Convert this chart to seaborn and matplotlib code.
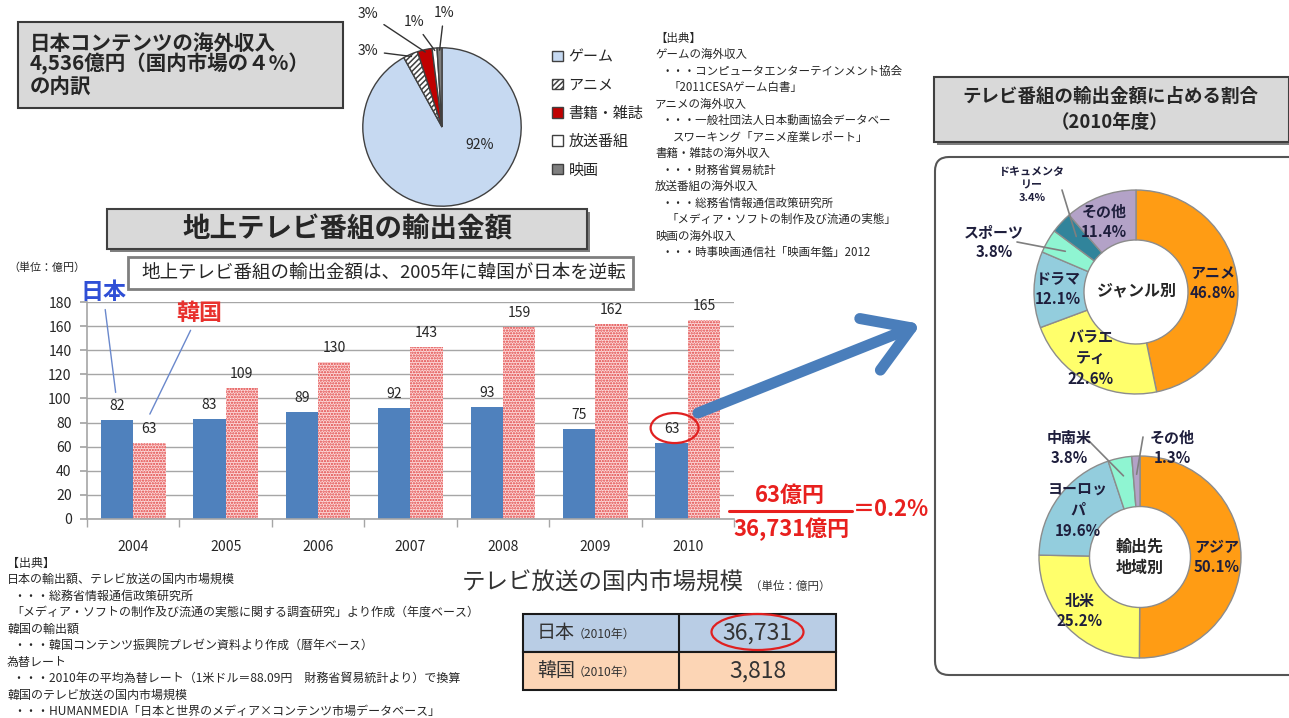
import matplotlib
matplotlib.use("Agg")
import numpy as np
import pandas as pd
import matplotlib.pyplot as plt
import seaborn as sns
from matplotlib.patches import FancyBboxPatch, FancyArrowPatch, Ellipse
from matplotlib.lines import Line2D
from matplotlib.transforms import IdentityTransform, ScaledTranslation

# ---------------- data ----------------
years = ["2004", "2005", "2006", "2007", "2008", "2009", "2010"]
japan_export = [82, 83, 89, 92, 93, 75, 63]
korea_export = [63, 109, 130, 143, 159, 162, 165]
countries = ["日本", "韓国"]
y_ticks = [0, 20, 40, 60, 80, 100, 120, 140, 160, 180]

content_labels = ["ゲーム", "アニメ", "書籍・雑誌", "放送番組", "映画"]
content_share = [92, 3, 3, 1, 1]

genre_labels = ["アニメ", "バラエ\nティ", "ドラマ", "スポーツ", "ドキュメンタ\nリー", "その他"]
genre_share = [46.8, 22.6, 12.1, 3.8, 3.4, 11.4]

region_labels = ["アジア", "北米", "ヨーロッ\nパ", "中南米", "その他"]
region_share = [50.1, 25.2, 19.6, 3.8, 1.3]

market_countries = ["日本", "韓国"]
market_year = ["（2010年）", "（2010年）"]
market_size = [36731, 3818]

source_top = [
    (0, "【出典】"), (0, "ゲームの海外収入"), (6, "・・・コンピュータエンターテインメント協会"),
    (14, "「2011CESAゲーム白書」"), (0, "アニメの海外収入"), (6, "・・・一般社団法人日本動画協会データベー"),
    (18, "スワーキング「アニメ産業レポート」"), (0, "書籍・雑誌の海外収入"), (6, "・・・財務省貿易統計"),
    (0, "放送番組の海外収入"), (6, "・・・総務省情報通信政策研究所"),
    (12, "「メディア・ソフトの制作及び流通の実態」"), (0, "映画の海外収入"),
    (6, "・・・時事映画通信社「映画年鑑」2012"),
]
source_bottom = [
    (0, "【出典】"), (0, "日本の輸出額、テレビ放送の国内市場規模"), (6, "・・・総務省情報通信政策研究所"),
    (4, "「メディア・ソフトの制作及び流通の実態に関する調査研究」より作成（年度ベース）"),
    (0, "韓国の輸出額"), (6, "・・・韓国コンテンツ振興院プレゼン資料より作成（暦年ベース）"),
    (0, "為替レート"), (6, "・・・2010年の平均為替レート（1米ドル＝88.09円　財務省貿易統計より）で換算"),
    (0, "韓国のテレビ放送の国内市場規模"), (6, "・・・HUMANMEDIA「日本と世界のメディア×コンテンツ市場データベース」"),
]

# ---------------- setup ----------------
sns.set_theme(style="white")
plt.rcParams["font.family"] = ["Noto Sans CJK JP", "DejaVu Sans"]
plt.rcParams["hatch.linewidth"] = 1.1
W, H = 1289, 718
fig = plt.figure(figsize=(W / 100, H / 100), dpi=100)
fig.patch.set_facecolor("white")
ID = IdentityTransform()
DARK = "#262626"


def P(px):
    return px * 0.72


def txt(x, y, s, size, **kw):
    kw.setdefault("va", "center")
    kw.setdefault("ha", "left")
    kw.setdefault("color", DARK)
    return fig.text(x / W, 1 - y / H, s, fontsize=P(size), **kw)


def rect(x0, y0, x1, y1, style="square,pad=0", **kw):
    p = FancyBboxPatch((x0, H - y1), x1 - x0, y1 - y0, boxstyle=style, transform=ID, **kw)
    fig.add_artist(p)
    return p


def line(xs, ys, **kw):
    l = Line2D(xs, [H - y for y in ys], transform=ID, **kw)
    fig.add_artist(l)
    return l


def axes_px(x0, y0, x1, y1):
    return fig.add_axes([x0 / W, 1 - y1 / H, (x1 - x0) / W, (y1 - y0) / H])


def fpt(x, y):
    return (x / W, 1 - y / H)


def mid(w, r):
    th = np.deg2rad((w.theta1 + w.theta2) / 2)
    return (r * np.cos(th), r * np.sin(th))


# ---------------- top-left title ----------------
rect(18, 22, 343, 108, fc="#d9d9d9", ec="#3a3a3a", lw=1.5)
txt(30, 43, "日本コンテンツの海外収入", 20.5, weight="bold")
txt(30, 64, "4,536億円（国内市場の４%）", 20.5, weight="bold")
txt(30, 86, "の内訳", 20.5, weight="bold")

# ---------------- pie ----------------
axp = axes_px(362, 47, 522, 207)
wedges, _ = axp.pie(content_share, colors=["#c6d9f1", "white", "#c00000", "white", "#7f7f7f"],
                    startangle=90, counterclock=False,
                    wedgeprops=dict(edgecolor="#404040", linewidth=1.0))
wedges[1].set_hatch("//////")
axp.set_xlim(-1.01, 1.01)
axp.set_ylim(-1.01, 1.01)
axp.set_aspect("equal")
txt(480, 145, f"{content_share[0]}%", 14, ha="center")
pie_lbl = {1: (368, 51), 2: (368, 14), 3: (414, 22), 4: (444, 13)}
for i, (lx, ly) in pie_lbl.items():
    axp.annotate(f"{content_share[i]}%", xy=mid(wedges[i], 0.97), xytext=fpt(lx, ly),
                 textcoords="figure fraction", ha="center", va="center", fontsize=P(14), color=DARK,
                 arrowprops=dict(arrowstyle="-", color="#333333", lw=1, shrinkA=2, shrinkB=0),
                 annotation_clip=False)
axp.legend(wedges, content_labels, loc="upper left", bbox_to_anchor=fpt(552, 50),
           bbox_transform=fig.transFigure, frameon=False, fontsize=P(15), handlelength=0.7,
           handleheight=0.7, labelspacing=0.95, handletextpad=0.4, borderaxespad=0, borderpad=0)

# ---------------- top source block ----------------
for i, (ind, s) in enumerate(source_top):
    txt(655 + ind, 38 + i * 16.5, s, 11.5)

# ---------------- bar chart title ----------------
rect(110, 212, 590, 252, fc="#7f7f7f", ec="none")
rect(107, 209, 587, 249, fc="#d9d9d9", ec="#404040", lw=1.5)
txt(347, 229, "地上テレビ番組の輸出金額", 27.5, weight="bold", ha="center")
txt(8, 268, "（単位：億円）", 11, ha="left")
rect(128, 257, 633, 289, fc="white", ec="#7f7f7f", lw=2)
txt(141, 273, "地上テレビ番組の輸出金額は、2005年に韓国が日本を逆転", 18.5)

# ---------------- bar chart ----------------
df = pd.DataFrame({
    "年": years * 2,
    "国": [countries[0]] * len(years) + [countries[1]] * len(years),
    "輸出金額": japan_export + korea_export,
})
axb = axes_px(87, 302, 734, 519)
sns.barplot(data=df, x="年", y="輸出金額", hue="国", hue_order=countries,
            palette={"日本": "#4f81bd", "韓国": "#fcdada"}, saturation=1, width=0.7,
            ax=axb, legend=False, linewidth=0)
for bar in axb.containers[1]:
    bar.set_hatch("......")
    bar.set_edgecolor("#e0403f")
    bar.set_linewidth(0)
axb.set_ylim(0, 180)
axb.set_yticks(y_ticks)
axb.set_xlim(-0.5, len(years) - 0.5)
axb.grid(axis="y", color="#a6a6a6", lw=1)
axb.set_axisbelow(True)
axb.set_xlabel("")
axb.set_ylabel("")
axb.set_facecolor("white")
for s in ["top", "right"]:
    axb.spines[s].set_visible(False)
for s in ["left", "bottom"]:
    axb.spines[s].set_color("#a6a6a6")
    axb.spines[s].set_linewidth(1.2)
axb.set_xticks(np.arange(-0.5, len(years), 1.0), minor=True)
axb.tick_params(axis="x", which="major", length=0, pad=15, labelsize=P(14), labelcolor=DARK)
axb.tick_params(axis="x", which="minor", length=6, color="#a6a6a6", direction="out", bottom=True)
axb.tick_params(axis="y", length=5, color="#a6a6a6", direction="out", left=True, pad=6,
                labelsize=P(14), labelcolor=DARK)
axb.bar_label(axb.containers[0], padding=P(7), fontsize=P(14), color=DARK)
axb.bar_label(axb.containers[1], padding=P(7), fontsize=P(14), color=DARK)
# red ellipse round the 2010 Japan value label
jp_last = axb.containers[0][-1]
ell_anchor = (jp_last.get_x() + jp_last.get_width() / 2, jp_last.get_height())
axb.add_patch(Ellipse((0.03, 0.15), 0.48, 0.30, fc="none", ec="#e02020", lw=1.6, clip_on=False,
                      transform=fig.dpi_scale_trans + ScaledTranslation(*ell_anchor, axb.transData)))

axb.annotate("日本", xy=(-0.19, 105), xytext=fpt(103, 292), textcoords="figure fraction",
             ha="center", va="center", fontsize=P(23), weight="bold", color="#2f4fd6",
             arrowprops=dict(arrowstyle="-", color="#6a88cc", lw=1, shrinkA=2, shrinkB=0),
             annotation_clip=False)
axb.annotate("韓国", xy=(0.18, 87), xytext=fpt(199, 313), textcoords="figure fraction",
             ha="center", va="center", fontsize=P(23), weight="bold", color="#e8322e",
             arrowprops=dict(arrowstyle="-", color="#6a88cc", lw=1, shrinkA=2, shrinkB=0),
             annotation_clip=False)

# arrow to right panel
arr = FancyArrowPatch((698, H - 413), (921, H - 324), transform=ID,
                      arrowstyle="->,head_length=3.2,head_width=2.0", mutation_scale=10,
                      lw=P(11), color="#4a7ebb", shrinkA=0, shrinkB=0, capstyle="round",
                      joinstyle="round")
fig.add_artist(arr)

# fraction
ratio = japan_export[-1] / market_size[0] * 100
txt(790, 495, f"{japan_export[-1]}億円", 22, weight="bold", color="#e8201e", ha="center")
line([729, 852], [511, 511], color="#e8201e", lw=2.2)
txt(791, 529, f"{market_size[0]:,}億円", 22, weight="bold", color="#e8201e", ha="center")
txt(853, 510, f"＝{ratio:.1f}%", 22, weight="bold", color="#e8201e")

# ---------------- bottom source block ----------------
for i, (ind, s) in enumerate(source_bottom):
    txt(7 + ind, 563 + i * 16.5, s, 12)

# ---------------- market table ----------------
txt(462, 583, "テレビ放送の国内市場規模", 23.5, color="#333333")
txt(750, 586, "（単位：億円）", 11.5, color="#333333")
tx0, tx1, tx2 = 523, 679, 836
ty = [614, 652, 690]
row_colors = ["#b9cde5", "#fcd5b5"]
for r in range(2):
    rect(tx0, ty[r], tx2, ty[r + 1], fc=row_colors[r], ec="#1a1a1a", lw=1.5)
line([tx1, tx1], [ty[0], ty[2]], color="#1a1a1a", lw=1.5)
for r in range(2):
    yc = (ty[r] + ty[r + 1]) / 2
    txt(537, yc, market_countries[r], 19, color="#333333")
    txt(573, yc + 1, market_year[r], 12, color="#333333")
    txt((tx1 + tx2) / 2, yc, f"{market_size[r]:,}", 23, ha="center", color="#333333")
fig.add_artist(Ellipse(((tx1 + tx2) / 2, H - 632), 92, 36, fc="none", ec="#e02020", lw=1.6,
                       transform=ID))

# ---------------- right panel ----------------
rect(935, 157, 1320, 675, style="round,pad=0,rounding_size=14", fc="white", ec="#555555",
     lw=1.5, zorder=-1)
rect(937, 80, 1292, 145, fc="#7f7f7f", ec="none")
rect(934, 77, 1289, 142, fc="#d9d9d9", ec="#404040", lw=1.5)
txt(1110, 96, "テレビ番組の輸出金額に占める割合", 18.5, weight="bold", ha="center")
txt(1110, 123, "（2010年度）", 18.5, weight="bold", ha="center")

ORANGE, YELLOW, LBLUE, MINT, TEAL, LAV = "#ff9c14", "#ffff6b", "#93cddd", "#8ff5d2", "#31849b", "#b3a2c7"
LBL = "#1e1e3c"

axg = axes_px(1033, 189, 1239, 395)
wg, _ = axg.pie(genre_share, colors=[ORANGE, YELLOW, LBLUE, MINT, TEAL, LAV], startangle=90,
                counterclock=False, wedgeprops=dict(width=0.49, edgecolor="#8c8c8c", linewidth=1))
axg.set_xlim(-1.01, 1.01)
axg.set_ylim(-1.01, 1.01)
axg.set_aspect("equal")
axg.axis("off")
genre_pos = [(1213, 283), (1091, 358), (1058, 289), (994, 242), (1032, 185), (1104, 222)]
genre_size = [15, 15, 15, 15, 11, 15]
for i, (lx, ly) in enumerate(genre_pos):
    txt(lx, ly, f"{genre_labels[i]}\n{genre_share[i]}%", genre_size[i], weight="bold",
        ha="center", color=LBL, linespacing=1.35)
txt(1137, 290, "ジャンル別", 16, weight="bold", ha="center", color=DARK)
for i, (sx, sy) in [(3, (1017, 242)), (4, (1062, 190))]:
    axg.annotate("", xy=mid(wg[i], 0.8), xytext=fpt(sx, sy), textcoords="figure fraction",
                 arrowprops=dict(arrowstyle="-", color="#7f7f7f", lw=1.2, shrinkA=0, shrinkB=0),
                 annotation_clip=False)

axr = axes_px(1038, 455, 1242, 659)
wr, _ = axr.pie(region_share, colors=[ORANGE, YELLOW, LBLUE, MINT, LAV], startangle=90,
                counterclock=False, wedgeprops=dict(width=0.5, edgecolor="#8c8c8c", linewidth=1))
axr.set_xlim(-1.01, 1.01)
axr.set_ylim(-1.01, 1.01)
axr.set_aspect("equal")
axr.axis("off")
region_pos = [(1217, 557), (1080, 611), (1078, 510), (1069, 448), (1172, 448)]
for i, (lx, ly) in enumerate(region_pos):
    txt(lx, ly, f"{region_labels[i]}\n{region_share[i]}%", 15, weight="bold", ha="center",
        color=LBL, linespacing=1.35)
txt(1140, 557, "輸出先\n地域別", 16, weight="bold", ha="center", color=DARK, linespacing=1.4)
for i, (sx, sy) in [(3, (1088, 440)), (4, (1143, 437))]:
    axr.annotate("", xy=mid(wr[i], 0.82), xytext=fpt(sx, sy), textcoords="figure fraction",
                 arrowprops=dict(arrowstyle="-", color="#7f7f7f", lw=1.2, shrinkA=0, shrinkB=0),
                 annotation_clip=False)

fig.savefig("out.png", dpi=100, facecolor="white")
